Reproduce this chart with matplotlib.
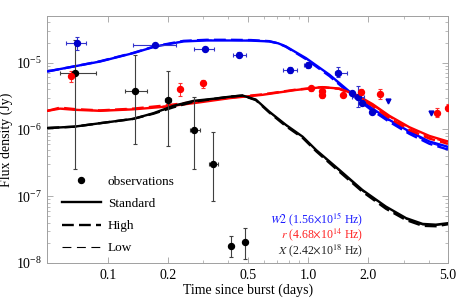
import matplotlib

matplotlib.use("Agg")

import matplotlib.pyplot as plt
from matplotlib.lines import Line2D
from matplotlib.ticker import FixedLocator, NullFormatter, LogLocator

# --- model curves (time in days, flux in Jy) ---
w2_t = [0.05, 0.068, 0.0915, 0.134, 0.173, 0.239, 0.311, 0.409, 0.52, 0.64, 0.71, 0.776, 0.977, 1.28, 1.61, 2.03, 2.55, 3.21, 4.04, 5.0]
w2_standard = [7.4e-6, 8.8e-6, 1.04e-5, 1.39e-5, 1.75e-5, 2.08e-5, 2.15e-5, 2.15e-5, 2.14e-5, 2.08e-5, 1.95e-5, 1.75e-5, 1.17e-5, 6.6e-6, 3.7e-6, 2.2e-6, 1.39e-6, 9.3e-7, 6.6e-7, 5.5e-7]
w2_high = [7.4e-6, 8.8e-6, 1.05e-5, 1.40e-5, 1.77e-5, 2.12e-5, 2.2e-5, 2.2e-5, 2.18e-5, 2.1e-5, 1.95e-5, 1.73e-5, 1.13e-5, 6.3e-6, 3.5e-6, 2.05e-6, 1.3e-6, 8.6e-7, 6.1e-7, 5.0e-7]
w2_low = [7.4e-6, 8.8e-6, 1.04e-5, 1.39e-5, 1.76e-5, 2.1e-5, 2.17e-5, 2.17e-5, 2.16e-5, 2.09e-5, 1.95e-5, 1.74e-5, 1.15e-5, 6.45e-6, 3.6e-6, 2.12e-6, 1.34e-6, 8.9e-7, 6.3e-7, 5.2e-7]

r_t = [0.05, 0.0577, 0.068, 0.0915, 0.134, 0.197, 0.289, 0.409, 0.593, 0.871, 1.18, 1.43, 1.74, 2.10, 2.55, 3.21, 4.04, 5.0]
r_standard = [1.9e-6, 2.05e-6, 1.97e-6, 1.9e-6, 2.0e-6, 2.2e-6, 2.55e-6, 2.95e-6, 3.3e-6, 3.9e-6, 4.3e-6, 4.1e-6, 3.3e-6, 2.4e-6, 1.6e-6, 1.08e-6, 8.0e-7, 6.6e-7]
r_high = [1.9e-6, 2.12e-6, 2.02e-6, 1.93e-6, 2.05e-6, 2.3e-6, 2.65e-6, 3.0e-6, 3.35e-6, 3.95e-6, 4.3e-6, 4.05e-6, 3.2e-6, 2.25e-6, 1.48e-6, 9.8e-7, 7.3e-7, 6.1e-7]
r_low = [1.9e-6, 2.08e-6, 2.0e-6, 1.92e-6, 2.03e-6, 2.26e-6, 2.6e-6, 2.97e-6, 3.32e-6, 3.92e-6, 4.3e-6, 4.08e-6, 3.25e-6, 2.32e-6, 1.54e-6, 1.03e-6, 7.6e-7, 6.3e-7]

x_t = [0.05, 0.068, 0.0915, 0.134, 0.169, 0.213, 0.268, 0.337, 0.409, 0.471, 0.549, 0.64, 0.776, 0.94, 1.10, 1.43, 1.87, 2.45, 3.09, 3.74, 4.35, 5.0]
x_standard = [1.05e-6, 1.1e-6, 1.24e-6, 1.44e-6, 1.75e-6, 2.26e-6, 2.68e-6, 2.88e-6, 3.1e-6, 3.22e-6, 2.8e-6, 1.85e-6, 1.17e-6, 7.8e-7, 4.9e-7, 2.5e-7, 1.24e-7, 7.0e-8, 4.7e-8, 3.85e-8, 3.75e-8, 3.95e-8]
x_high = [1.05e-6, 1.1e-6, 1.24e-6, 1.44e-6, 1.72e-6, 2.15e-6, 2.6e-6, 2.86e-6, 3.1e-6, 3.22e-6, 2.75e-6, 1.8e-6, 1.12e-6, 7.5e-7, 4.7e-7, 2.35e-7, 1.17e-7, 6.5e-8, 4.4e-8, 3.6e-8, 3.55e-8, 3.8e-8]
x_low = [1.05e-6, 1.1e-6, 1.24e-6, 1.44e-6, 1.73e-6, 2.2e-6, 2.64e-6, 2.87e-6, 3.1e-6, 3.22e-6, 2.78e-6, 1.83e-6, 1.15e-6, 7.65e-7, 4.8e-7, 2.42e-7, 1.2e-7, 6.75e-8, 4.55e-8, 3.72e-8, 3.65e-8, 3.87e-8]

# --- observations ---
obs_x_t = [0.0684, 0.1366, 0.200, 0.270, 0.337, 0.412, 0.486]
obs_x_f = [7.1e-6, 3.83e-6, 2.75e-6, 9.8e-7, 3.0e-7, 1.82e-8, 2.09e-8]
obs_x_flo = [2.57e-7, 6.0e-7, 5.7e-7, 2.6e-7, 8.6e-8, 1.24e-8, 1.14e-8]
obs_x_fhi = [2.2e-5, 1.31e-5, 7.4e-6, 3.1e-6, 9.1e-7, 2.57e-8, 3.4e-8]
obs_x_tlo = [0.0576, 0.1223, 0.193, 0.257, 0.32, 0.405, 0.48]
obs_x_thi = [0.0877, 0.157, 0.207, 0.288, 0.355, 0.419, 0.492]

obs_w2_t = [0.0702, 0.173, 0.305, 0.453, 0.81, 1.0, 1.42, 1.65, 1.77, 1.86, 2.08]
obs_w2_f = [1.97e-5, 1.85e-5, 1.6e-5, 1.31e-5, 7.8e-6, 9.3e-6, 7.1e-6, 3.5e-6, 3.1e-6, 2.48e-6, 1.85e-6]
obs_w2_flo = [1.56e-5, 1.7e-5, 1.48e-5, 1.2e-5, 7.1e-6, 8.4e-6, 6.0e-6, 3.3e-6, 2.2e-6, 2.35e-6, 1.75e-6]
obs_w2_fhi = [2.42e-5, 2.0e-5, 1.73e-5, 1.43e-5, 8.6e-6, 1.03e-5, 8.5e-6, 3.7e-6, 4.4e-6, 2.6e-6, 1.95e-6]
obs_w2_tlo = [0.0617, 0.134, 0.27, 0.42, 0.75, 0.96, 1.37, 1.62, 1.66, 1.83, 2.05]
obs_w2_thi = [0.0782, 0.219, 0.34, 0.49, 0.88, 1.04, 1.56, 1.68, 1.90, 1.89, 2.11]
w2_limit_t = [2.5, 4.12]
w2_limit_f = [2.7e-6, 1.75e-6]

obs_r_t = [0.0653, 0.229, 0.30, 1.04, 1.18, 1.18, 1.5, 1.85, 2.30, 4.41, 5.02]
obs_r_f = [6.4e-6, 4.0e-6, 4.9e-6, 4.16e-6, 3.8e-6, 3.3e-6, 3.3e-6, 3.7e-6, 3.42e-6, 1.79e-6, 2.13e-6]
obs_r_flo = [5.2e-6, 3.2e-6, 4.2e-6, 3.8e-6, 3.5e-6, 3.0e-6, 3.1e-6, 3.3e-6, 2.88e-6, 1.56e-6, 1.9e-6]
obs_r_fhi = [7.6e-6, 4.9e-6, 5.5e-6, 4.5e-6, 4.1e-6, 3.6e-6, 3.5e-6, 4.1e-6, 4.0e-6, 2.09e-6, 2.4e-6]

x_major = [0.1, 0.2, 0.5, 1.0, 2.0, 5.0]
x_major_labels = ["0.1", "0.2", "0.5", "1.0", "2.0", "5.0"]
x_minor = [0.3, 0.4, 0.6, 0.7, 0.8, 0.9, 3.0, 4.0]

band_labels = [
    (r"$\mathit{W2}$ (1.56$\times$10$^{15}$ Hz)", "#1a1aff"),
    (r"$\mathit{r}$ (4.68$\times$10$^{14}$ Hz)", "#ff2020"),
    (r"$\mathit{X}$ (2.42$\times$10$^{18}$ Hz)", "#222222"),
]

plt.rcParams["font.family"] = ["Liberation Serif", "DejaVu Serif"]
plt.rcParams["mathtext.fontset"] = "stix"

FRAME = "#a0a0a0"


def draw_models(ax, t, std, high, low, color):
    ax.plot(t, std, color=color, lw=1.7, solid_capstyle="round", zorder=3)
    ax.plot(t, high, color=color, lw=1.7, linestyle=(0, (5.0, 2.2)), zorder=3)
    ax.plot(t, low, color=color, lw=0.8, linestyle=(0, (8.0, 5.0)), zorder=3)


def draw_obs(ax, t, f, flo, fhi, color, ecolor, tlo=None, thi=None):
    yerr = [[a - b for a, b in zip(f, flo)], [b - a for a, b in zip(f, fhi)]]
    xerr = None
    if tlo is not None:
        xerr = [[a - b for a, b in zip(t, tlo)], [b - a for a, b in zip(t, thi)]]
    ax.errorbar(t, f, yerr=yerr, xerr=xerr, fmt="o", ms=4.3, color=color, ecolor=ecolor,
                elinewidth=0.8, capsize=1.5, capthick=0.8, zorder=4)


def main() -> None:
    fig = plt.figure(figsize=(4.58, 2.99), dpi=100)
    ax = fig.add_axes([0.1037, 0.1204, 0.8743, 0.8261])

    draw_models(ax, w2_t, w2_standard, w2_high, w2_low, "#0000ff")
    draw_models(ax, r_t, r_standard, r_high, r_low, "#ff0000")
    draw_models(ax, x_t, x_standard, x_high, x_low, "black")

    draw_obs(ax, obs_x_t, obs_x_f, obs_x_flo, obs_x_fhi, "black", "#404040", obs_x_tlo, obs_x_thi)
    draw_obs(ax, obs_w2_t, obs_w2_f, obs_w2_flo, obs_w2_fhi, "#0000cc", "#3333cc", obs_w2_tlo, obs_w2_thi)
    draw_obs(ax, obs_r_t, obs_r_f, obs_r_flo, obs_r_fhi, "#ff0000", "#ff3030")
    ax.plot(w2_limit_t, w2_limit_f, "v", ms=3.5, color="#0000cc", zorder=4)

    ax.set_xscale("log")
    ax.set_yscale("log")
    ax.set_xlim(0.05, 5.0)
    ax.set_ylim(1e-8, 5e-5)

    ax.xaxis.set_major_locator(FixedLocator(x_major))
    ax.set_xticklabels(x_major_labels)
    ax.xaxis.set_minor_locator(FixedLocator(x_minor))
    ax.xaxis.set_minor_formatter(NullFormatter())
    ax.yaxis.set_major_locator(LogLocator(base=10, numticks=10))
    ax.yaxis.set_minor_locator(LogLocator(base=10, subs=range(2, 10), numticks=20))
    ax.yaxis.set_minor_formatter(NullFormatter())

    ax.tick_params(which="both", direction="in", top=True, right=True, color=FRAME, labelsize=10, pad=4)
    ax.tick_params(which="major", length=4, width=0.6)
    ax.tick_params(which="minor", length=2, width=0.5)
    for spine in ax.spines.values():
        spine.set_color(FRAME)
        spine.set_linewidth(0.7)

    ax.set_xlabel("Time since burst (days)", fontsize=10, labelpad=1.5)
    ax.set_ylabel("Flux density (Jy)", fontsize=10, labelpad=2)

    handles = [
        Line2D([], [], color="black", marker="o", ms=4.3, linestyle="none"),
        Line2D([], [], color="black", lw=1.7),
        Line2D([], [], color="black", lw=1.7, linestyle=(0, (5.0, 2.2))),
        Line2D([], [], color="black", lw=0.8, linestyle=(0, (8.0, 5.0))),
    ]
    ax.legend(handles, ["observations", "Standard", "High", "Low"], loc="lower left",
              bbox_to_anchor=(0.035, 0.035), frameon=False, fontsize=9.5, handlelength=3.0,
              handletextpad=0.5, labelspacing=0.75, borderpad=0, borderaxespad=0)

    for i, (label, color) in enumerate(band_labels):
        ax.text(0.788, 0.178 - i * 0.063, label, color=color, fontsize=8.5, ha="right", va="center",
                transform=ax.transAxes)

    fig.savefig("out.png", dpi=100)
    plt.close(fig)


if __name__ == "__main__":
    main()
